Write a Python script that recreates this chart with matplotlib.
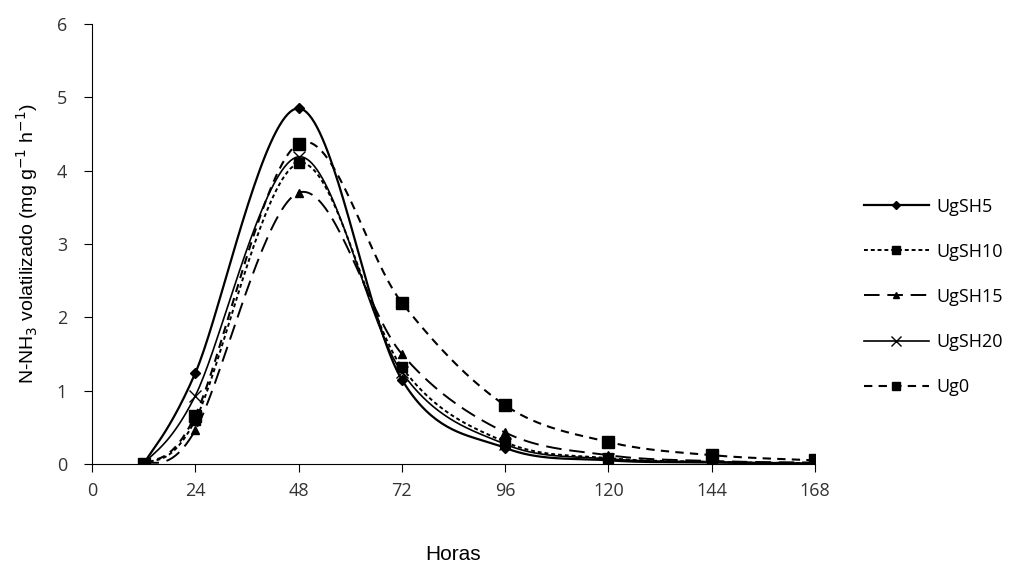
import numpy as np
import matplotlib.pyplot as plt

horas = [12, 24, 48, 72, 96, 120, 144, 168]

ugsh5 = [0.0, 1.24, 4.85, 1.15, 0.22, 0.05, 0.02, 0.0]
ugsh10 = [0.0, 0.60, 4.10, 1.32, 0.30, 0.08, 0.03, 0.01]
ugsh15 = [0.0, 0.46, 3.70, 1.50, 0.43, 0.12, 0.04, 0.02]
ugsh20 = [0.0, 0.93, 4.19, 1.25, 0.27, 0.07, 0.03, 0.01]
ug0 = [0.0, 0.66, 4.37, 2.20, 0.80, 0.30, 0.12, 0.05]

nombres = ['UgSH5', 'UgSH10', 'UgSH15', 'UgSH20', 'Ug0']


# linea suavizada tipo Excel (bezier con puntos de control de Catmull-Rom)
def suavizar(x, y, n=40):
    x = np.asarray(x, float)
    y = np.asarray(y, float)
    px = np.concatenate([[x[0]], x, [x[-1]]])
    py = np.concatenate([[y[0]], y, [y[-1]]])
    xs, ys = [], []
    t = np.linspace(0, 1, n)
    for i in range(1, len(px) - 2):
        p0 = np.array([px[i], py[i]])
        p3 = np.array([px[i + 1], py[i + 1]])
        p1 = p0 + (np.array([px[i + 1], py[i + 1]]) - np.array([px[i - 1], py[i - 1]])) / 6
        p2 = p3 - (np.array([px[i + 2], py[i + 2]]) - np.array([px[i], py[i]])) / 6
        b = ((1 - t) ** 3)[:, None] * p0 + (3 * (1 - t) ** 2 * t)[:, None] * p1 \
            + (3 * (1 - t) * t ** 2)[:, None] * p2 + (t ** 3)[:, None] * p3
        xs.extend(b[:, 0])
        ys.extend(b[:, 1])
    return np.array(xs), np.array(ys)


fig = plt.figure(figsize=(10.23, 5.67), dpi=100)
ax = fig.add_axes([92 / 1023, 1 - 464 / 567, (815 - 92) / 1023, (464 - 24) / 567])

estilos = [
    dict(ls='-', lw=1.6, marker='D', ms=5),
    dict(ls=(0, (2, 1.5)), lw=1.4, marker='s', ms=7),
    dict(ls=(0, (8, 4)), lw=1.4, marker='^', ms=6),
    dict(ls='-', lw=1.2, marker='x', ms=9),
    dict(ls=(0, (4, 3)), lw=1.5, marker='s', ms=8),
]
series = [ugsh5, ugsh10, ugsh15, ugsh20, ug0]

for nombre, datos, e in zip(nombres, series, estilos):
    sx, sy = suavizar(horas, datos)
    ax.plot(sx, sy, color='black', ls=e['ls'], lw=e['lw'])
    ax.plot(horas, datos, ls='none', marker=e['marker'], ms=e['ms'],
            color='black', mew=1)
    ax.plot([], [], color='black', ls=e['ls'], lw=e['lw'], marker=e['marker'],
            ms=e['ms'] * 0.8, label=nombre)

ax.set_xlim(0, 168)
ax.set_ylim(0, 6)
ax.set_xticks(np.arange(0, 169, 24))
ax.set_yticks(range(0, 7))
ax.spines['top'].set_visible(False)
ax.spines['right'].set_visible(False)
ax.tick_params(direction='out', length=6, labelsize=13, colors='black',
               labelcolor='#333333')
for lab in ax.get_xticklabels() + ax.get_yticklabels():
    lab.set_family('Open Sans')
ax.tick_params(axis='x', pad=7)
ax.tick_params(axis='y', pad=12)

ax.set_xlabel('Horas', family='Liberation Sans', fontsize=15, labelpad=32)
ax.set_ylabel('N-NH$_3$ volatilizado (mg g$^{-1}$ h$^{-1}$)',
              family='Liberation Sans', fontsize=14, labelpad=12)

leg = ax.legend(loc='center left', bbox_to_anchor=(1.045, 0.38), frameon=False,
                prop={'family': 'Open Sans', 'size': 13}, handlelength=3.6,
                labelspacing=1.5, handletextpad=0.4)

fig.savefig('out.png', dpi=100)
